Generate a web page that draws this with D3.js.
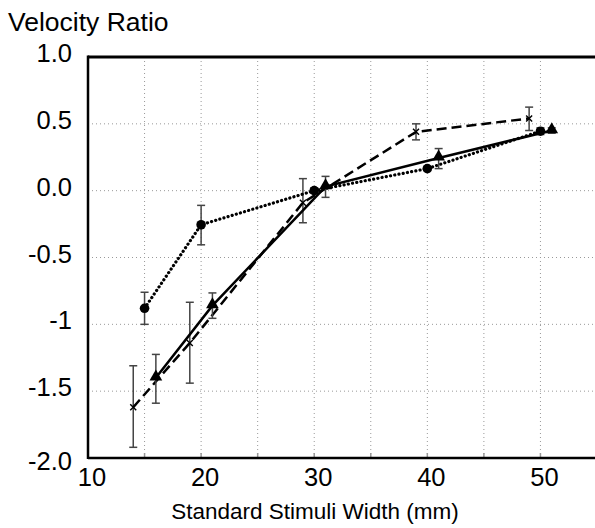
<!DOCTYPE html>
<html>
<head>
<meta charset="utf-8">
<script src="https://cdn.jsdelivr.net/npm/d3@7"></script>
<style>
  body { margin: 0; background: #fff; }
  svg { display: block; font-family: "Liberation Sans", Arial, sans-serif; }
</style>
</head>
<body>
<svg id="chart" width="595" height="528"></svg>
<script>
// x positions are offset a little per series, like in the original figure
var xTicks = [10, 20, 30, 40, 50];
var yTicks = [1.0, 0.5, 0.0, -0.5, -1, -1.5, -2.0];
var yTickLabels = ["1.0", "0.5", "0.0", "-0.5", "-1", "-1.5", "-2.0"];

// dotted line, round markers
var dotX = [15, 20, 30, 40, 50];
var dotY = [-0.88, -0.255, 0.0, 0.165, 0.445];
var dotLo = [-1.0, -0.405, -0.02, 0.15, 0.42];
var dotHi = [-0.76, -0.11, 0.02, 0.18, 0.47];

// solid line, triangles
var solidX = [16, 21, 31, 41, 51];
var solidY = [-1.40, -0.86, 0.03, 0.245, 0.45];
var solidLo = [-1.59, -0.955, -0.05, 0.165, 0.43];
var solidHi = [-1.225, -0.765, 0.107, 0.315, 0.47];

// dashed line, small crosses
var dashX = [14, 19, 29, 39, 49];
var dashY = [-1.62, -1.14, -0.09, 0.44, 0.54];
var dashLo = [-1.92, -1.44, -0.24, 0.38, 0.45];
var dashHi = [-1.31, -0.835, 0.09, 0.5, 0.625];

var svg = d3.select("#chart");
var pLeft = 88, pTop = 57, pBottom = 458, pRight = 597;

var x = d3.scaleLinear().domain([10, 55]).range([pLeft, pRight]);
var y = d3.scaleLinear().domain([-2, 1]).range([pBottom, pTop]);

// grid
var grid = svg.append("g");
d3.range(15, 55, 5).forEach(function(v) {
    grid.append("line")
        .attr("x1", x(v)).attr("x2", x(v))
        .attr("y1", pTop).attr("y2", pBottom)
        .attr("stroke", "#999").attr("stroke-width", 1)
        .attr("stroke-dasharray", "1,3");
});
[0.5, 0, -0.5, -1, -1.5].forEach(function(v) {
    grid.append("line")
        .attr("x1", pLeft).attr("x2", pRight)
        .attr("y1", y(v)).attr("y2", y(v))
        .attr("stroke", "#999").attr("stroke-width", 1)
        .attr("stroke-dasharray", "1,3");
});

// small inner ticks on the bottom axis
d3.range(15, 55, 5).forEach(function(v) {
    svg.append("line")
        .attr("x1", x(v)).attr("x2", x(v))
        .attr("y1", pBottom).attr("y2", pBottom - 5)
        .attr("stroke", "#999").attr("stroke-width", 1.5);
});

// frame
svg.append("line").attr("x1", pLeft).attr("x2", 595).attr("y1", pTop).attr("y2", pTop)
    .attr("stroke", "#000").attr("stroke-width", 3);
svg.append("line").attr("x1", pLeft).attr("x2", pLeft).attr("y1", pTop - 1.5).attr("y2", pBottom + 1)
    .attr("stroke", "#000").attr("stroke-width", 2.5);
svg.append("line").attr("x1", pLeft).attr("x2", 595).attr("y1", pBottom).attr("y2", pBottom)
    .attr("stroke", "#000").attr("stroke-width", 2.5);

// tick labels
svg.append("g").selectAll("text")
    .data(xTicks).enter().append("text")
    .attr("x", function(d) { return x(d) + 4; })
    .attr("y", pBottom + 28)
    .attr("text-anchor", "middle")
    .attr("font-size", 25.5)
    .text(function(d) { return d; });

svg.append("g").selectAll("text")
    .data(yTicks).enter().append("text")
    .attr("x", 72)
    .attr("y", function(d) { return y(d) + (d == -2 ? 12 : 5); })
    .attr("text-anchor", "end")
    .attr("font-size", 25.5)
    .text(function(d, i) { return yTickLabels[i]; });

svg.append("text").attr("x", 8).attr("y", 31)
    .attr("font-size", 26.5).text("Velocity Ratio");
svg.append("text").attr("x", 315).attr("y", 519)
    .attr("text-anchor", "middle").attr("font-size", 22.5)
    .text("Standard Stimuli Width (mm)");

function series(xs, ys, lo, hi, dash, width, marker) {
    var pts = xs.map(function(d, i) { return [d, ys[i], lo[i], hi[i]]; });
    var g = svg.append("g");

    // error bars
    pts.forEach(function(p) {
        var cx = x(p[0]);
        g.append("line").attr("x1", cx).attr("x2", cx)
            .attr("y1", y(p[2])).attr("y2", y(p[3]))
            .attr("stroke", "#444").attr("stroke-width", 1.5);
        [p[2], p[3]].forEach(function(v) {
            g.append("line").attr("x1", cx - 4).attr("x2", cx + 4)
                .attr("y1", y(v)).attr("y2", y(v))
                .attr("stroke", "#444").attr("stroke-width", 1.5);
        });
    });

    var line = d3.line()
        .x(function(d) { return x(d[0]); })
        .y(function(d) { return y(d[1]); });
    g.append("path").datum(pts)
        .attr("d", line)
        .attr("fill", "none")
        .attr("stroke", "#000")
        .attr("stroke-width", width)
        .attr("stroke-dasharray", dash)
        .attr("stroke-linecap", marker == "circle" ? "round" : "butt");

    pts.forEach(function(p) {
        var cx = x(p[0]), cy = y(p[1]);
        if (marker == "circle") {
            g.append("circle").attr("cx", cx).attr("cy", cy).attr("r", 4.8).attr("fill", "#000");
        } else if (marker == "triangle") {
            g.append("path")
                .attr("d", d3.symbol().type(d3.symbolTriangle).size(70)())
                .attr("transform", "translate(" + cx + "," + (cy - 1) + ")")
                .attr("fill", "#000");
        } else {
            g.append("path")
                .attr("d", "M-3,-3L3,3M-3,3L3,-3")
                .attr("transform", "translate(" + cx + "," + cy + ")")
                .attr("stroke", "#000").attr("stroke-width", 1.4);
        }
    });
}

series(dashX, dashY, dashLo, dashHi, "10,5", 2.5, "cross");
series(dotX, dotY, dotLo, dotHi, "0.1,4.2", 3.2, "circle");
series(solidX, solidY, solidLo, solidHi, null, 2.5, "triangle");
</script>
</body>
</html>
